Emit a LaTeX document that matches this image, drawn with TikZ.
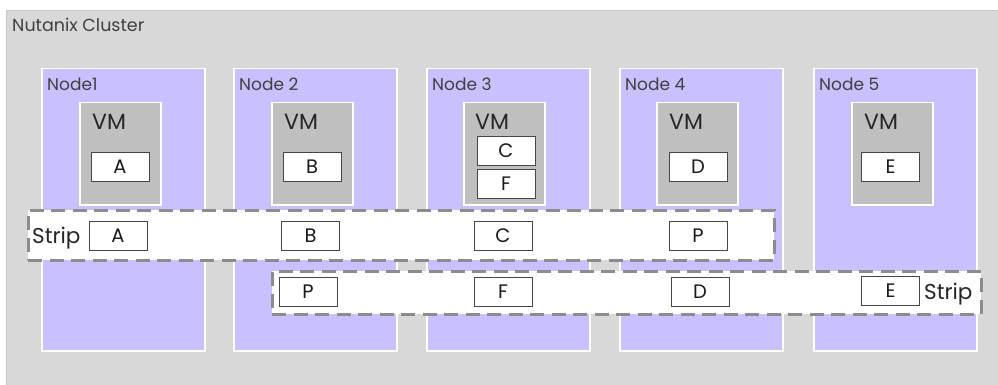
\documentclass[tikz,border=0pt]{standalone}
\usepackage{fontspec}
\setmainfont{Poppins}
\definecolor{clustergray}{RGB}{216,216,216}
\definecolor{clusterline}{RGB}{200,200,200}
\definecolor{lav}{RGB}{200,192,255}
\definecolor{vmgray}{RGB}{191,191,191}
\definecolor{dashgray}{RGB}{140,140,140}
\definecolor{txtgray}{RGB}{64,64,64}
\definecolor{boxline}{RGB}{70,70,70}
\tikzset{
  clusterbox/.style={draw=clusterline, fill=clustergray, line width=0.8pt, anchor=north west, inner sep=0pt},
  hostbox/.style={draw=white, fill=lav, line width=1.5pt, anchor=north west, inner sep=0pt, minimum width=163pt, minimum height=282pt},
  vmbox/.style={draw=white, fill=vmgray, line width=1.5pt, anchor=north west, inner sep=0pt, minimum width=81pt, minimum height=102pt},
  databox/.style={draw=boxline, fill=white, line width=0.8pt, inner sep=0pt, minimum width=58pt, minimum height=29pt, font=\fontsize{19.5}{19.5}\selectfont, text=black!90},
  stripbox/.style={draw=dashgray, fill=white, line width=2.8pt, dash pattern=on 14pt off 7.5pt, anchor=north west, inner sep=0pt},
  lbl/.style={anchor=base west, inner sep=0pt, text=txtgray, font=\fontsize{17}{17}\selectfont},
  vmlbl/.style={anchor=base west, inner sep=0pt, text=black!85, font=\fontsize{22}{22}\selectfont},
  striplbl/.style={anchor=base west, inner sep=0pt, text=black!85, font=\fontsize{21.5}{21.5}\selectfont},
}
\begin{document}
\begin{tikzpicture}[x=1pt,y=-1pt]
\useasboundingbox (0,0) rectangle (998,385);
\node[clusterbox, minimum width=992pt, minimum height=375pt] (cluster) at (6,10) {};
\node[lbl, font=\fontsize{17.5}{17.5}\selectfont] (clusterlbl) at (12,32) {Nutanix Cluster};
% hosts
\node[hostbox] (n1) at (41,68) {};
\node[hostbox] (n2) at (233,68) {};
\node[hostbox] (n3) at (426,68) {};
\node[hostbox] (n4) at (619,68) {};
\node[hostbox] (n5) at (813,68) {};
\node[lbl] (n1l) at (47,91) {Node1};
\node[lbl] (n2l) at (239,91) {Node 2};
\node[lbl] (n3l) at (432,91) {Node 3};
\node[lbl] (n4l) at (625,91) {Node 4};
\node[lbl] (n5l) at (819,91) {Node 5};
% VMs
\node[vmbox] (vm1) at (79,102) {};
\node[vmbox] (vm2) at (271,102) {};
\node[vmbox] (vm3) at (463,102) {};
\node[vmbox] (vm4) at (656,102) {};
\node[vmbox] (vm5) at (851,102) {};
\node[vmlbl] (vm1l) at (92,129) {VM};
\node[vmlbl] (vm2l) at (284,129) {VM};
\node[vmlbl] (vm3l) at (475,129) {VM};
\node[vmlbl] (vm4l) at (669,129) {VM};
\node[vmlbl] (vm5l) at (864,129) {VM};
\node[databox] (va) at (120,166.5) {A};
\node[databox] (vb) at (312,166.5) {B};
\node[databox] (vc) at (506,150.5) {C};
\node[databox] (vf) at (506,184) {F};
\node[databox] (vd) at (698,166.5) {D};
\node[databox] (ve) at (890.5,166.5) {E};
% strip 1
\node[stripbox, minimum width=746pt, minimum height=50pt] (s1) at (27,209) {};
\node[striplbl] (s1l) at (32,243) {Strip};
\node[databox] (sa) at (118,236) {A};
\node[databox] (sb) at (310.5,236) {B};
\node[databox] (sc) at (503,236) {C};
\node[databox] (sp1) at (698,236) {P};
% strip 2
\node[stripbox, minimum width=709pt, minimum height=43pt] (s2) at (271,270) {};
\node[databox] (sp2) at (308,291.5) {P};
\node[databox] (sf) at (503,291.5) {F};
\node[databox] (sd) at (700,291.5) {D};
\node[databox] (se) at (890.5,290.5) {E};
\node[striplbl] (s2l) at (924,299) {Strip};
\end{tikzpicture}
\end{document}
